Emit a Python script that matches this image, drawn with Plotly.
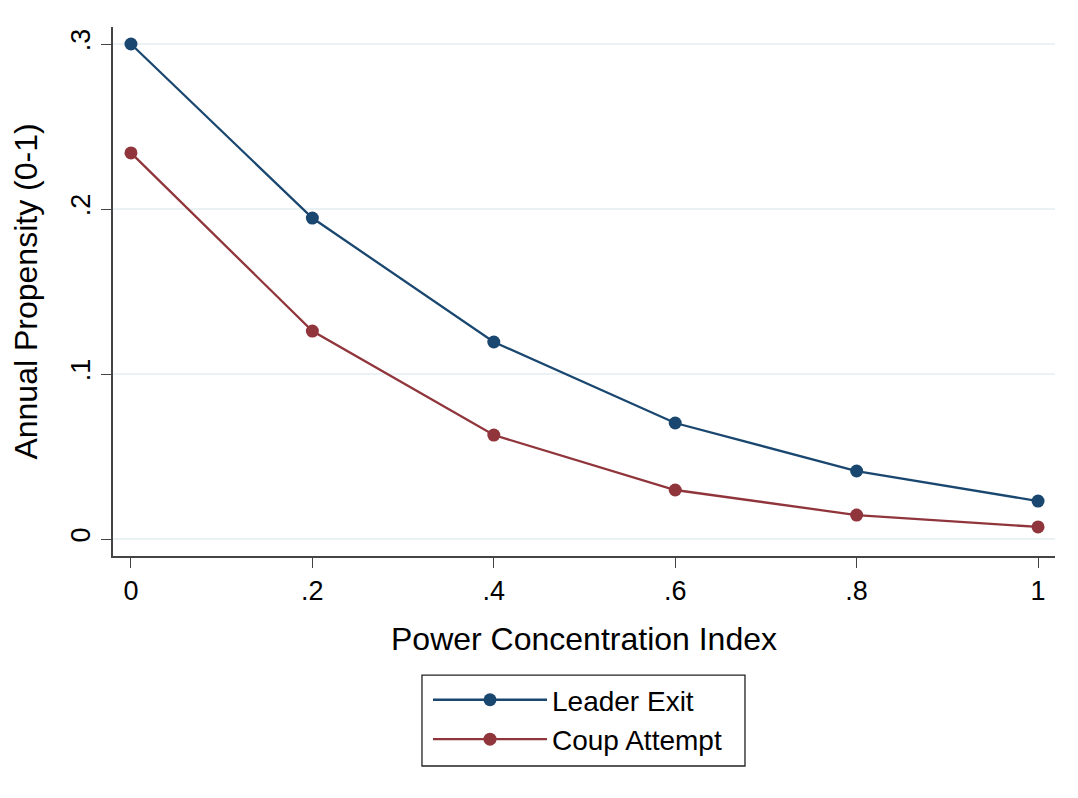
import plotly.graph_objects as go

x_vals = [0, 0.2, 0.4, 0.6, 0.8, 1.0]
leader_exit = [0.300, 0.1945, 0.1194, 0.0703, 0.0412, 0.0230]
coup_attempt = [0.234, 0.126, 0.063, 0.0297, 0.0145, 0.0073]
x_ticks = [0, 0.2, 0.4, 0.6, 0.8, 1.0]
x_tick_labels = ["0", ".2", ".4", ".6", ".8", "1"]
y_ticks = [0, 0.1, 0.2, 0.3]
y_tick_labels = ["0", ".1", ".2", ".3"]

navy = "#1a476f"
maroon = "#90353b"

fig = go.Figure()
fig.add_trace(go.Scatter(x=x_vals, y=leader_exit, mode="lines+markers", name="Leader Exit",
                         line=dict(color=navy, width=2.3), marker=dict(color=navy, size=13)))
fig.add_trace(go.Scatter(x=x_vals, y=coup_attempt, mode="lines+markers", name="Coup Attempt",
                         line=dict(color=maroon, width=2.3), marker=dict(color=maroon, size=13)))

# plot area in page pixels: x 113..1055, y 27..556 (page body has 8px margin)
fig.update_layout(
    width=1070, height=790,
    margin=dict(l=105, r=23, t=19, b=242),
    paper_bgcolor="white", plot_bgcolor="white",
    font=dict(family="Arial, Liberation Sans, sans-serif", color="black"),
    legend=dict(x=0.3344, xanchor="left", y=-0.225, yanchor="top",
                borderwidth=0, bgcolor="rgba(0,0,0,0)", font=dict(size=28),
                itemwidth=114, tracegroupgap=0),
    showlegend=True,
    shapes=[dict(type="rect", xref="paper", yref="paper",
                 x0=0.328, x1=0.6709, y0=-0.397, y1=-0.225,
                 line=dict(color="#222", width=1.3), fillcolor="rgba(0,0,0,0)")],
)
fig.update_xaxes(range=[-0.0198, 1.0187], tickvals=x_ticks, ticktext=x_tick_labels,
                 showline=True, linecolor="#444", linewidth=1.5, ticks="outside", ticklen=10,
                 tickcolor="#444", tickfont=dict(size=27), showgrid=False, zeroline=False,
                 automargin=False,
                 title=dict(text="Power Concentration Index", font=dict(size=32), standoff=22))
fig.update_yaxes(range=[-0.0103, 0.3103], tickvals=y_ticks, ticktext=y_tick_labels,
                 showline=True, linecolor="#444", linewidth=1.5, ticks="outside", ticklen=10,
                 tickcolor="#444", tickfont=dict(size=27), tickangle=-90,
                 showgrid=True, gridcolor="#eaf2f3", gridwidth=2, zeroline=False,
                 automargin=False,
                 title=dict(text="Annual Propensity (0-1)", font=dict(size=32), standoff=32))

fig.write_html("out.html")
